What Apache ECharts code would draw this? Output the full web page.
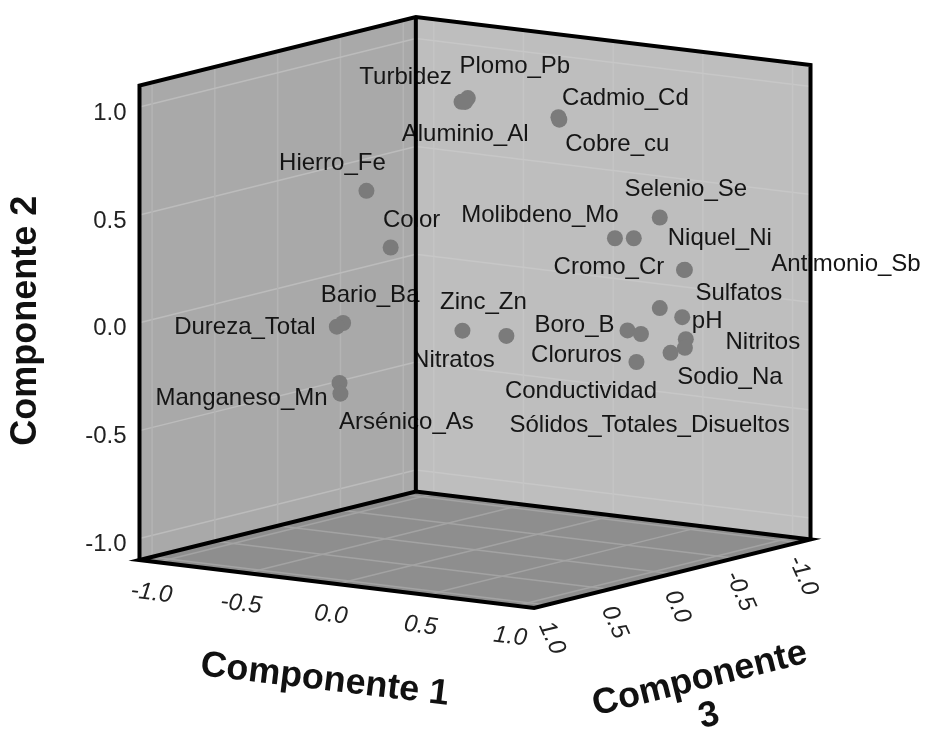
<!DOCTYPE html>
<html>
<head>
<meta charset="utf-8">
<script src="https://cdn.jsdelivr.net/npm/echarts@6/dist/echarts.min.js"></script>
<style>
  html, body { margin: 0; padding: 0; background: #ffffff; }
  #chart { width: 930px; height: 729px; }
</style>
</head>
<body>
<div id="chart"></div>
<script>
// Component loadings (rotated solution), one entry per variable
const NAMES = [
  'Turbidez', 'Plomo_Pb', 'Aluminio_Al', 'Cadmio_Cd', 'Cobre_cu',
  'Hierro_Fe', 'Color', 'Selenio_Se', 'Molibdeno_Mo', 'Niquel_Ni',
  'Cromo_Cr', 'Antimonio_Sb', 'Sulfatos', 'pH', 'Boro_B',
  'Conductividad', 'Nitritos', 'Sodio_Na', 'Sólidos_Totales_Disueltos', 'Cloruros',
  'Zinc_Zn', 'Nitratos', 'Bario_Ba', 'Dureza_Total', 'Manganeso_Mn',
  'Arsénico_As'
];
const COMP1 = [
  -0.04, -0.04, -0.09, 0.36, 0.40,
  -0.29, -0.19, 0.82, 0.64, 0.71,
  0.89, 0.92, 0.82, 0.91, 0.71,
  0.75, 0.93, 0.96, 0.95, 0.83,
  0.00, 0.21, -0.14, -0.14, -0.16,
  -0.19
];
const COMP2 = [
  0.98, 0.99, 0.96, 0.92, 0.92,
  0.60, 0.34, 0.48, 0.38, 0.38,
  0.23, 0.24, 0.06, 0.02, -0.04,
  -0.06, -0.08, -0.11, -0.12, -0.16,
  -0.07, -0.08, 0.06, 0.05, -0.22,
  -0.28
];
const COMP3 = [
  0.05, 0.00, -0.05, -0.15, -0.10,
  0.45, 0.40, -0.30, -0.20, -0.25,
  -0.40, -0.35, -0.30, -0.35, -0.20,
  -0.25, -0.35, -0.30, -0.20, -0.10,
  0.10, 0.05, 0.85, 0.90, 0.85,
  0.80
];

const TICKS = [-1.0, -0.5, 0.0, 0.5, 1.0];
const TICK_LABELS = ['-1.0', '-0.5', '0.0', '0.5', '1.0'];
const AXIS_TITLES = ['Componente 1', 'Componente 2', 'Componente\n3'];
const LIMIT = 1.1;

// ---- view settings (orthographic camera) ----
const AZIMUTH = 35 * Math.PI / 180;
const ELEVATION = 10 * Math.PI / 180;
const SCALE = 219;            // px per unit
const CENTER = [475, 312.5];  // where the origin lands on the canvas
const W = 930, H = 729;

// label placement around each marker (px from marker centre)
const LABEL_OFFSET = {
  'Turbidez': [-56, -24], 'Plomo_Pb': [47, -32], 'Aluminio_Al': [0, 32],
  'Cadmio_Cd': [67, -19], 'Cobre_cu': [58, 25], 'Hierro_Fe': [-34, -27],
  'Color': [21, -27], 'Selenio_Se': [26, -28], 'Molibdeno_Mo': [-75, -23],
  'Niquel_Ni': [86, 0], 'Cromo_Cr': [-76, -2], 'Antimonio_Sb': [162, -6],
  'Sulfatos': [79, -15], 'pH': [25, 4], 'Boro_B': [-53, -5],
  'Conductividad': [-60, 57], 'Nitritos': [77, 3], 'Sodio_Na': [45, 30],
  'Sólidos_Totales_Disueltos': [-21, 73], 'Cloruros': [-60, -7],
  'Zinc_Zn': [21, -28], 'Nitratos': [-53, 24], 'Bario_Ba': [27, -28],
  'Dureza_Total': [-92, 1], 'Manganeso_Mn': [-98, 15], 'Arsénico_As': [66, 29]
};

function project(c1, c2, c3) {
  const ca = Math.cos(AZIMUTH), sa = Math.sin(AZIMUTH);
  const ce = Math.cos(ELEVATION), se = Math.sin(ELEVATION);
  const u = c1 * ca - c3 * sa;
  const depth = c1 * sa + c3 * ca;
  const v = c2 * ce - depth * se;
  return [u, v];
}

const FONT = '"Liberation Sans", Arial, sans-serif';

function lineEl(a, b, color, width) {
  return { type: 'line', shape: { x1: a[0], y1: a[1], x2: b[0], y2: b[1] },
           style: { stroke: color, lineWidth: width } };
}
function polyEl(pts, fill) {
  return { type: 'polygon', shape: { points: pts }, style: { fill: fill } };
}

// walls, floor and their grid lines
function renderBox(params, api) {
  const P = (a, b, c) => api.coord(project(a, b, c));
  const L = LIMIT;
  const kids = [];
  kids.push(polyEl([P(-L, -L, L), P(-L, -L, -L), P(L, -L, -L), P(L, -L, L)], '#8e8e8e'));
  kids.push(polyEl([P(-L, -L, L), P(-L, L, L), P(-L, L, -L), P(-L, -L, -L)], '#a9a9a9'));
  kids.push(polyEl([P(-L, -L, -L), P(-L, L, -L), P(L, L, -L), P(L, -L, -L)], '#bebebe'));
  TICKS.forEach(t => {
    // left wall (component 1 = min)
    kids.push(lineEl(P(-L, t, L), P(-L, t, -L), '#bcbcbc', 1.5));
    kids.push(lineEl(P(-L, -L, t), P(-L, L, t), '#b4b4b4', 1.5));
    // right wall (component 3 = min)
    kids.push(lineEl(P(-L, t, -L), P(L, t, -L), '#c7c7c7', 1.5));
    kids.push(lineEl(P(t, -L, -L), P(t, L, -L), '#c5c5c5', 1.5));
    // floor
    kids.push(lineEl(P(t, -L, -L), P(t, -L, L), '#a3a3a3', 1.5));
    kids.push(lineEl(P(-L, -L, t), P(L, -L, t), '#a3a3a3', 1.5));
  });
  return { type: 'group', children: kids };
}

// black frame edges, tick labels and axis titles
function renderFrame(params, api) {
  const P = (a, b, c) => api.coord(project(a, b, c));
  const L = LIMIT;
  const kids = [];
  const edge = { stroke: '#000000', lineWidth: 4, lineJoin: 'miter', fill: null };
  kids.push({ type: 'polyline', shape: { points: [
    P(-L, -L, L), P(-L, L, L), P(-L, L, -L), P(L, L, -L), P(L, -L, -L)] }, style: edge });
  kids.push({ type: 'polyline', shape: { points: [P(-L, L, -L), P(-L, -L, -L)] }, style: edge });
  kids.push({ type: 'polygon', shape: { points: [
    P(-L, -L, L), P(-L, -L, -L), P(L, -L, -L), P(L, -L, L)] }, style: edge });

  const tickStyle = (text, extra) => Object.assign({
    text: text, fill: '#222222', font: '24px ' + FONT,
    align: 'center', verticalAlign: 'middle'
  }, extra || {});

  TICKS.forEach((t, i) => {
    // component 2 (vertical) ticks on the left edge
    const a = P(-L, t, L);
    kids.push({ type: 'text', x: a[0] - 13, y: a[1] + 6,
      style: tickStyle(TICK_LABELS[i], { align: 'right' }) });
    // component 1 ticks along the front-left floor edge
    const b = P(t, -L, L);
    kids.push({ type: 'text', x: b[0] - 6, y: b[1] + 31, rotation: -0.12,
      style: tickStyle(TICK_LABELS[i], { fontStyle: 'italic', font: 'italic 24px ' + FONT }) });
    // component 3 ticks along the front-right floor edge
    const c = P(L, -L, t);
    kids.push({ type: 'text', x: c[0] + 5, y: c[1] + 33, rotation: -1.15,
      style: tickStyle(TICK_LABELS[i], { font: 'italic 24px ' + FONT }) });
  });

  const titleFont = 'bold 36px ' + FONT;
  const t1 = P(0, -L, L);
  kids.push({ type: 'text', x: t1[0] - 12, y: t1[1] + 96, rotation: -0.12,
    style: { text: AXIS_TITLES[0], font: titleFont, fill: '#111111', align: 'center', verticalAlign: 'middle' } });
  const t2 = P(-L, 0, L);
  kids.push({ type: 'text', x: t2[0] - 113, y: t2[1] - 2, rotation: Math.PI / 2,
    style: { text: AXIS_TITLES[1], font: titleFont, fill: '#111111', align: 'center', verticalAlign: 'middle' } });
  const t3 = P(L, -L, 0);
  kids.push({ type: 'text', x: t3[0] + 32, y: t3[1] + 124, rotation: 0.245,
    style: { text: AXIS_TITLES[2], font: titleFont, fill: '#111111', align: 'center',
             verticalAlign: 'middle', lineHeight: 38 } });
  return { type: 'group', children: kids };
}

function renderPoint(params, api) {
  const pt = api.coord(project(api.value(0), api.value(1), api.value(2)));
  return { type: 'circle', shape: { cx: pt[0], cy: pt[1], r: 8 },
           style: { fill: '#7b7b7b' } };
}

function renderLabel(params, api) {
  const name = NAMES[params.dataIndex];
  const off = LABEL_OFFSET[name] || [0, -20];
  const pt = api.coord(project(api.value(0), api.value(1), api.value(2)));
  return { type: 'text', x: pt[0] + off[0], y: pt[1] + off[1],
           style: { text: name, font: '24px ' + FONT, fill: '#151515',
                    align: 'center', verticalAlign: 'middle' } };
}

const loadings = NAMES.map((n, i) => ({ name: n, value: [COMP1[i], COMP2[i], COMP3[i]] }));

const chart = echarts.init(document.getElementById('chart'), null, { renderer: 'canvas' });
chart.setOption({
  backgroundColor: '#ffffff',
  animation: false,
  grid: { left: 0, top: 0, width: W, height: H, containLabel: false },
  xAxis: { type: 'value', show: false, min: -CENTER[0] / SCALE, max: (W - CENTER[0]) / SCALE },
  yAxis: { type: 'value', show: false, min: -(H - CENTER[1]) / SCALE, max: CENTER[1] / SCALE },
  series: [
    { type: 'custom', name: 'box', z: 1, clip: false, silent: true,
      renderItem: renderBox, data: [[0, 0]], encode: { x: 0, y: 1 } },
    { type: 'custom', name: 'loadings', z: 2, clip: false,
      renderItem: renderPoint, data: loadings, encode: { x: 0, y: 1 } },
    { type: 'custom', name: 'names', z: 3, clip: false, silent: true,
      renderItem: renderLabel, data: loadings, encode: { x: 0, y: 1 } },
    { type: 'custom', name: 'frame', z: 4, clip: false, silent: true,
      renderItem: renderFrame, data: [[0, 0]], encode: { x: 0, y: 1 } }
  ]
});
</script>
</body>
</html>
